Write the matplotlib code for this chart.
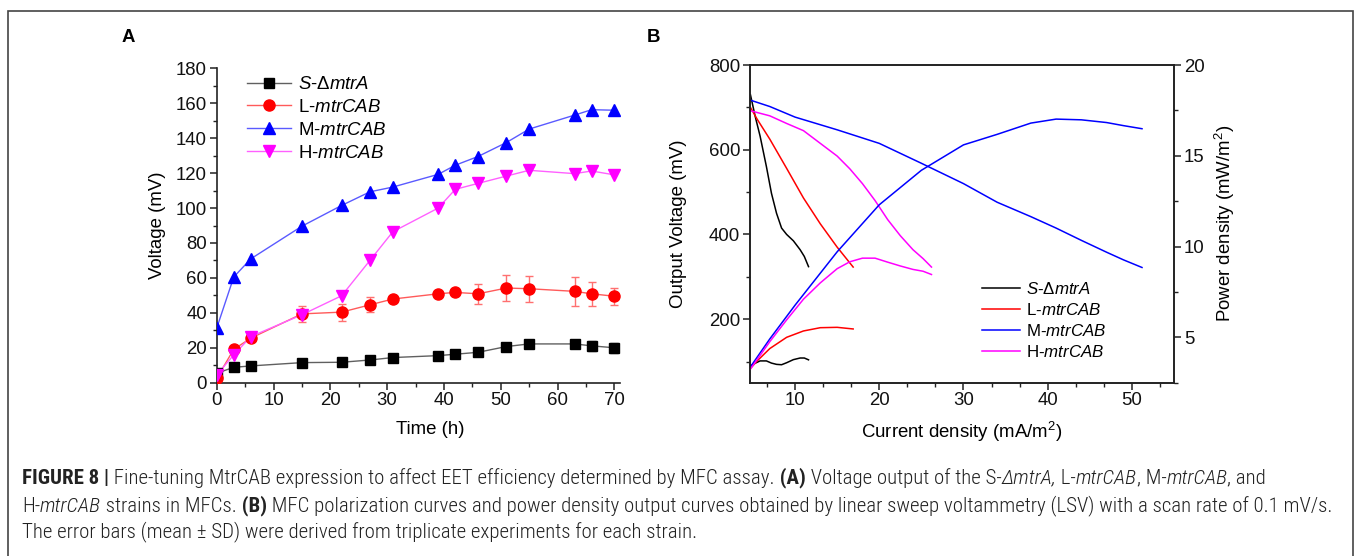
import matplotlib
matplotlib.use("Agg")
import matplotlib.pyplot as plt
import matplotlib.patches as mpatches
from matplotlib.ticker import MultipleLocator
from matplotlib import font_manager

plt.rcParams['font.family'] = ['Liberation Sans', 'DejaVu Sans']
plt.rcParams['mathtext.fontset'] = 'custom'
plt.rcParams['mathtext.rm'] = 'Liberation Sans'
plt.rcParams['mathtext.it'] = 'Liberation Sans:italic'
plt.rcParams['mathtext.bf'] = 'Liberation Sans:bold'


def pick_caption_font():
    # prefer a narrow / condensed sans for the caption
    fonts = font_manager.fontManager.ttflist
    names = {f.name for f in fonts}
    for fam in ('Liberation Sans Narrow', 'Roboto Condensed', 'Open Sans Condensed'):
        if fam in names:
            return fam, 'normal'
    for f in fonts:
        if f.name == 'DejaVu Sans' and 'condensed' in str(f.stretch):
            return 'DejaVu Sans', 'condensed'
    return 'Liberation Sans', 'normal'


CAPTION_FONT, CAPTION_STRETCH = pick_caption_font()

W, H = 1358, 556

# ---- (A) voltage output over time ----
t_hours = [0, 3, 6, 15, 22, 27, 31, 39, 42, 46, 51, 55, 63, 66, 70]
volt_S = [5.4, 8.8, 9.6, 11.5, 11.7, 13.0, 14.4, 15.5, 16.3, 17.4, 20.7, 22.2, 22.2, 21.1, 20.0]
err_S = [0.5, 0.8, 0.8, 1.0, 1.0, 1.0, 1.0, 1.0, 1.0, 1.2, 1.5, 1.8, 2.0, 3.0, 2.8]
volt_L = [2.5, 19.1, 25.5, 39.4, 40.4, 44.6, 47.9, 50.9, 51.7, 50.9, 54.2, 53.8, 52.3, 50.9, 49.5]
err_L = [0.5, 1.0, 1.5, 4.5, 4.9, 4.3, 1.5, 1.5, 1.5, 5.6, 7.5, 7.4, 8.3, 7.0, 5.0]
volt_M = [31.2, 60.5, 70.9, 89.6, 101.5, 109.3, 112.0, 119.3, 124.5, 129.5, 137.5, 145.2, 153.2, 156.3, 156.0]
volt_H = [4.5, 15.9, 26.4, 38.9, 49.8, 70.1, 86.4, 100.0, 110.7, 114.1, 118.3, 121.6, 119.7, 121.2, 119.0]

# ---- (B) polarization (mV) and power density (mW/m2) vs current density (mA/m2) ----
cur_S = [4.7, 5.25, 5.85, 6.6, 7.2, 7.8, 8.4, 9.0, 9.8, 10.6, 11.1, 11.6]
pol_S = [730, 680, 632, 560, 497, 450, 415, 400, 385, 364, 348, 324]
pow_S = [3.43, 3.57, 3.70, 3.70, 3.58, 3.51, 3.49, 3.60, 3.77, 3.86, 3.86, 3.76]

cur_L = [4.7, 5.5, 7.0, 9.0, 11.0, 13.0, 15.0, 16.9]
pol_L = [700, 672, 625, 556, 486, 425, 370, 323]
pow_L = [3.29, 3.70, 4.38, 5.00, 5.35, 5.53, 5.55, 5.46]

cur_M = [4.7, 7, 10, 15, 20, 25, 30, 34, 38, 41, 44, 47, 49, 51.2]
pol_M = [717, 702, 677, 647, 615, 568, 520, 476, 442, 415, 386, 358, 340, 322]
pow_M = [3.37, 4.91, 6.77, 9.71, 12.30, 14.20, 15.60, 16.18, 16.80, 17.02, 16.98, 16.83, 16.66, 16.49]

cur_H = [4.7, 7, 9, 11, 13, 15, 16.5, 18, 19.5, 21, 22.5, 24, 25.2, 26.2]
pol_H = [692, 680, 662, 645, 615, 585, 555, 520, 480, 435, 397, 364, 343, 323]
pow_H = [3.25, 4.76, 5.96, 7.10, 8.00, 8.78, 9.16, 9.36, 9.36, 9.14, 8.93, 8.74, 8.64, 8.46]

labels = [r'$\mathit{S}$-$\mathit{\Delta mtrA}$', r'L-$\mathit{mtrCAB}$',
          r'M-$\mathit{mtrCAB}$', r'H-$\mathit{mtrCAB}$']

FS = 13.4

fig = plt.figure(figsize=(W / 100, H / 100), dpi=100)


def px_box(x0, y0, x1, y1):
    # pixel box (top-left origin) -> figure fraction rect
    return [x0 / W, 1 - y1 / H, (x1 - x0) / W, (y1 - y0) / H]


def style_ticks(ax):
    ax.tick_params(which='major', direction='out', length=5, width=1.1,
                   labelsize=FS, color='#222222', labelcolor='#111111', pad=2)
    ax.tick_params(which='minor', direction='out', length=3, width=1.0, color='#222222')


# ================= panel A =================
axA = fig.add_axes(px_box(216.7, 68.3, 620, 382.7))
axA.spines['top'].set_visible(False)
axA.spines['right'].set_visible(False)
for s in ('left', 'bottom'):
    axA.spines[s].set_linewidth(1.2)
    axA.spines[s].set_color('#222222')

axA.plot(t_hours, volt_S, '-', color='#606060', lw=1.0, zorder=2)
axA.errorbar(t_hours, volt_S, yerr=err_S, fmt='none', ecolor='#707070', elinewidth=1, capsize=3, zorder=2)
axA.plot(t_hours, volt_L, '-', color='#ff5a5a', lw=1.0, zorder=2)
axA.errorbar(t_hours, volt_L, yerr=err_L, fmt='none', ecolor='#ff7070', elinewidth=1, capsize=3, zorder=2)
axA.plot(t_hours, volt_M, '-', color='#5a5aff', lw=1.0, zorder=2)
axA.plot(t_hours, volt_H, '-', color='#ff60ff', lw=1.0, zorder=2)

axA.plot(t_hours, volt_S, 's', color='black', ms=6.5, zorder=3)
axA.plot(t_hours, volt_L, 'o', color='#ff0000', ms=8, zorder=3)
axA.plot(t_hours, volt_M, '^', color='#0000ff', ms=8, zorder=3)
axA.plot(t_hours, volt_H, 'v', color='#ff00ff', ms=8, zorder=3)

# legend handles: line with marker
hA = [
    plt.Line2D([], [], color='#606060', lw=1.0, marker='s', mfc='black', mec='black', ms=6.5),
    plt.Line2D([], [], color='#ff5a5a', lw=1.0, marker='o', mfc='#ff0000', mec='#ff0000', ms=8),
    plt.Line2D([], [], color='#5a5aff', lw=1.0, marker='^', mfc='#0000ff', mec='#0000ff', ms=8),
    plt.Line2D([], [], color='#ff60ff', lw=1.0, marker='v', mfc='#ff00ff', mec='#ff00ff', ms=8),
]
axA.legend(hA, labels, loc='upper left', bbox_to_anchor=(247 / W, 1 - 76 / H),
           bbox_transform=fig.transFigure, frameon=False, fontsize=FS,
           handlelength=2.35, handletextpad=0.4, labelspacing=0.32,
           borderpad=0, borderaxespad=0)

axA.set_xlim(0, 71)
axA.set_ylim(0, 180)
axA.xaxis.set_major_locator(MultipleLocator(10))
axA.xaxis.set_minor_locator(MultipleLocator(5))
axA.yaxis.set_major_locator(MultipleLocator(20))
axA.yaxis.set_minor_locator(MultipleLocator(10))
style_ticks(axA)
axA.set_xlabel('Time (h)', fontsize=FS)
axA.set_ylabel('Voltage (mV)', fontsize=FS)
axA.xaxis.set_label_coords(0.529, -0.122)
axA.yaxis.set_label_coords(-0.126, 0.5)

# ================= panel B =================
axB = fig.add_axes(px_box(750, 65, 1174, 382.7))
axP = axB.twinx()
for a in (axB, axP):
    for s in a.spines.values():
        s.set_linewidth(1.2)
        s.set_color('#222222')

colors = ['#000000', '#ff0000', '#0000ff', '#ff00ff']
curves = [(cur_S, pol_S, pow_S), (cur_L, pol_L, pow_L),
          (cur_M, pol_M, pow_M), (cur_H, pol_H, pow_H)]
hB = []
for (cur, pol, pw), c, lab in zip(curves, colors, labels):
    ln, = axB.plot(cur, pol, '-', color=c, lw=1.1, label=lab)
    axP.plot(cur, pw, '-', color=c, lw=1.1)
    hB.append(ln)

axB.set_xlim(4.65, 55)
axB.set_ylim(50, 800)
axP.set_ylim(2.5, 20)
axB.xaxis.set_major_locator(MultipleLocator(10))
axB.xaxis.set_minor_locator(MultipleLocator(10 / 3))
axB.yaxis.set_major_locator(MultipleLocator(200))
axB.yaxis.set_minor_locator(MultipleLocator(100))
axP.yaxis.set_major_locator(MultipleLocator(5))
axP.yaxis.set_minor_locator(MultipleLocator(2.5))
style_ticks(axB)
style_ticks(axP)
axB.tick_params(which='both', top=False)

axB.legend(hB, labels, loc='upper left', bbox_to_anchor=(982 / W, 1 - 281 / H),
           bbox_transform=fig.transFigure, frameon=False, fontsize=12.2,
           handlelength=2.25, handletextpad=0.33, labelspacing=0.3,
           borderpad=0, borderaxespad=0)

axB.set_xlabel(r'Current density (mA/m$^{2}$)', fontsize=FS)
axB.set_ylabel('Output Voltage (mV)', fontsize=FS)
axP.set_ylabel(r'Power density (mW/m$^{2}$)', fontsize=FS)
axB.xaxis.set_label_coords(0.5, -0.117)
axB.yaxis.set_label_coords(-0.148, 0.5)
axP.yaxis.set_label_coords(1.092, 0.5)

# panel letters
fig.text(128 / W, 1 - 37 / H, 'A', fontsize=FS, fontweight='bold', ha='center', va='center')
fig.text(653 / W, 1 - 37 / H, 'B', fontsize=FS, fontweight='bold', ha='center', va='center')

# outer frame (open at the bottom edge)
fig.add_artist(mpatches.Rectangle((8 / W, -0.05), (1353 - 8) / W, 1.05 - 10.7 / H,
                                  transform=fig.transFigure, fill=False,
                                  edgecolor='#444444', lw=1.2, clip_on=False))

# ---- caption, drawn as runs of mixed weight / slant ----
cap_lines = [
    [("FIGURE 8 |", 'bold'),
     (" Fine-tuning MtrCAB expression to affect EET efficiency determined by MFC assay.", 'normal'),
     (" (A)", 'bold'), (" Voltage output of the S-", 'normal'), ("\u0394mtrA,", 'italic'),
     (" L-", 'normal'), ("mtrCAB", 'italic'), (", M-", 'normal'), ("mtrCAB", 'italic'),
     (", and", 'normal')],
    [("H-", 'normal'), ("mtrCAB", 'italic'), (" strains in MFCs.", 'normal'), (" (B)", 'bold'),
     (" MFC polarization curves and power density output curves obtained by linear sweep "
      "voltammetry (LSV) with a scan rate of 0.1 mV/s.", 'normal')],
    [("The error bars (mean \u00b1 SD) were derived from triplicate experiments for each strain.",
      'normal')],
]
cap_y = [478, 506, 532]
CAP_X0, CAP_X1 = 22, 1333   # second (longest) line runs from CAP_X0 to CAP_X1

renderer = fig.canvas.get_renderer()


def draw_runs(runs, yy, size):
    x = CAP_X0 / W
    made = []
    for txt, st in runs:
        t = fig.text(x, 1 - yy / H, txt, fontsize=size,
                     family=[CAPTION_FONT, 'DejaVu Sans'], stretch=CAPTION_STRETCH,
                     fontweight='bold' if st == 'bold' else 'light',
                     fontstyle='italic' if st == 'italic' else 'normal',
                     color='#222222', ha='left', va='center')
        x += t.get_window_extent(renderer).width / W
        made.append(t)
    return made, x * W


# size the caption so that its longest line spans the same width
probe, x_end = draw_runs(cap_lines[1], cap_y[1], 10.0)
for t in probe:
    t.remove()
cap_fs = 10.0 * (CAP_X1 - CAP_X0) / (x_end - CAP_X0)

for runs, yy in zip(cap_lines, cap_y):
    draw_runs(runs, yy, cap_fs)

fig.savefig('out.png', dpi=100)
